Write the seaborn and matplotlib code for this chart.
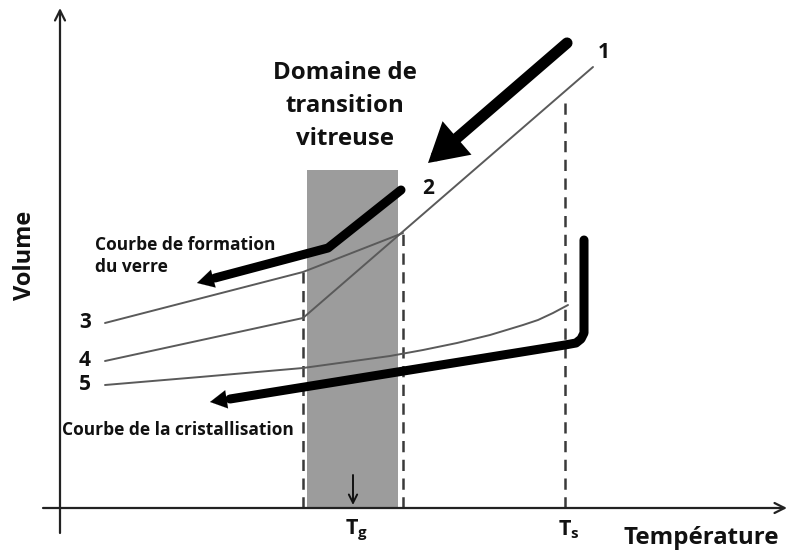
import matplotlib
matplotlib.use("Agg")
import matplotlib.pyplot as plt
import seaborn as sns
import pandas as pd

# ---- schematic data (temperature T, volume V in arbitrary units) ----
curve1_T = [533, 243]
curve1_V = [441, 190]
curve3_T = [45, 243, 343]
curve3_V = [185, 236, 275]
curve4_T = [45, 243]
curve4_V = [147, 190]
curve5_T = [45, 140, 243, 330, 363, 397, 430, 463, 478, 493, 508]
curve5_V = [123, 131, 140, 152, 158, 165, 173, 183, 188, 195, 203]

cool_arrow_T = [507, 368]
cool_arrow_V = [465, 345]
glass_T = [341, 268, 137]
glass_V = [318, 260, 225]
cryst_T = [524, 524, 521, 516, 505, 150]
cryst_V = [268, 175, 169, 165, 163, 106]

Tg_low, Tg_high, Ts, Tg = 243, 343, 505, 293
band_T = [247, 338]
band_V_top = 338
curve_labels = ["1", "2", "3", "4", "5"]

sns.set_theme(style="white")
FONT = ["Open Sans", "DejaVu Sans"]
plt.rcParams["font.family"] = FONT
plt.rcParams["mathtext.fontset"] = "custom"
plt.rcParams["mathtext.bf"] = "Open Sans:bold"
plt.rcParams["mathtext.rm"] = "Open Sans"

fig = plt.figure(figsize=(7.88, 5.53), dpi=100)
ax = fig.add_axes([0, 0, 1, 1])
ax.set_xlim(-60, 728)
ax.set_ylim(-45, 508)
ax.axis("off")

thin = "#5a5a5a"
# glass transition band
ax.fill_between(band_T, 0, band_V_top, color="#9c9c9c", lw=0, zorder=0)

# dashed verticals
for t, vtop in [(Tg_low, 236), (Tg_high, 275), (Ts, 408)]:
    ax.plot([t, t], [0, vtop], color="#3a3a3a", lw=1.8, dashes=(4.5, 3), zorder=1)

def path(T, V, **kw):
    df = pd.DataFrame({"T": T, "V": V})
    sns.lineplot(data=df, x="T", y="V", sort=False, estimator=None, ax=ax, **kw)

# thin curves
for T, V in [(curve1_T, curve1_V), (curve3_T, curve3_V), (curve4_T, curve4_V), (curve5_T, curve5_V)]:
    path(T, V, color=thin, lw=1.4, zorder=2)

# thick paths (body), arrowheads added below
path(glass_T[:-1] + [glass_T[-1] + 18], glass_V[:-1] + [glass_V[-1] + 5], color="black", lw=6.5, zorder=3)
path(cryst_T[:-1] + [cryst_T[-1] + 20], cryst_V[:-1] + [cryst_V[-1] + 3], color="black", lw=6.5, zorder=3)
for ln in ax.get_lines():
    if ln.get_linewidth() > 5:
        ln.set_solid_joinstyle("round")

head = dict(arrowstyle="-|>,head_length=1.0,head_width=0.55", color="black", lw=0.1, shrinkA=0, shrinkB=0)
ax.annotate("", xy=(glass_T[-1], glass_V[-1]), xytext=(glass_T[-2], glass_V[-2]), arrowprops=head, zorder=3)
ax.annotate("", xy=(cryst_T[-1], cryst_V[-1]), xytext=(cryst_T[-2], cryst_V[-2]), arrowprops=head, zorder=3)
ax.annotate("", xy=(cool_arrow_T[1], cool_arrow_V[1]), xytext=(cool_arrow_T[0], cool_arrow_V[0]),
            arrowprops=dict(arrowstyle="-|>,head_length=1.3,head_width=0.75", color="black", lw=8,
                            shrinkA=0, shrinkB=0, joinstyle="miter"), zorder=3)

# axes with arrows
ax.annotate("", xy=(0, 500), xytext=(0, -25),
            arrowprops=dict(arrowstyle="->,head_length=0.6,head_width=0.3", color="#222", lw=1.6, shrinkA=0, shrinkB=0))
ax.annotate("", xy=(727, 0), xytext=(-17, 0),
            arrowprops=dict(arrowstyle="->,head_length=0.6,head_width=0.3", color="#222", lw=1.6, shrinkA=0, shrinkB=0))
# Tg marker arrow
ax.annotate("", xy=(Tg, 3), xytext=(Tg, 33),
            arrowprops=dict(arrowstyle="->,head_length=0.5,head_width=0.25", color="#111", lw=1.4, shrinkA=0, shrinkB=0))

tc = "#111111"
# curve numbers
for lab, (x, y) in zip(curve_labels, [(544, 455), (368, 320), (25, 186), (25, 148), (25, 123)]):
    ax.text(x, y, lab, fontsize=15, fontweight="bold", color=tc, ha="center", va="center")

ax.text(285, 402, "Domaine de\ntransition\nvitreuse", fontsize=17.3, fontweight="bold", color=tc,
        ha="center", va="center", linespacing=1.5)
ax.text(35, 252, "Courbe de formation\ndu verre", fontsize=12.5, fontweight="bold", color=tc,
        ha="left", va="center", linespacing=1.3)
ax.text(2, 78, "Courbe de la cristallisation", fontsize=12.5, fontweight="bold", color=tc,
        ha="left", va="center")

# Tg / Ts labels
ax.text(Tg + 4, -22, r"$\mathbf{T_g}$", fontsize=15.5, color=tc, ha="center", va="center")
ax.text(Ts + 4, -22, r"$\mathbf{T_s}$", fontsize=15.5, color=tc, ha="center", va="center")

ax.text(641, -30, "Température", fontsize=17.3, fontweight="bold", color=tc, ha="center", va="center")
ax.text(-35, 253, "Volume", fontsize=17, fontweight="bold", color=tc, ha="center", va="center", rotation=90)

fig.savefig("out.png", dpi=100)
